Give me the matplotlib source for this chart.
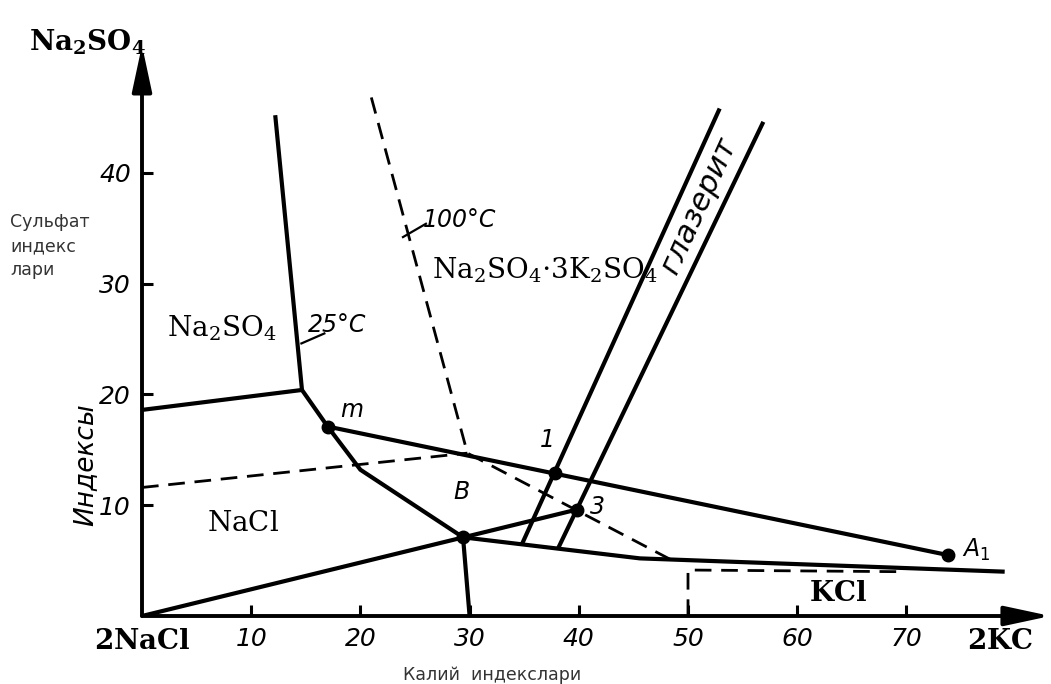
import matplotlib.pyplot as plt

# 25°C: Na2SO4 / NaCl / KCl / глазерит
curve_25_x = [12.2, 14.65, 17.0, 20.0, 29.4, 30.0]
curve_25_y = [45.2, 20.4, 17.1, 13.2, 7.1, 0.0]
na2so4_nacl_x = [0.0, 14.65]
na2so4_nacl_y = [18.6, 20.4]
b_kcl_x = [29.4, 45.6, 79.0]
b_kcl_y = [7.1, 5.2, 4.0]
glaserite_left_x = [34.8, 52.9]
glaserite_left_y = [6.5, 45.8]
glaserite_right_x = [38.1, 56.9]
glaserite_right_y = [6.1, 44.6]
ray_x = [0.0, 39.8]
ray_y = [0.0, 9.6]
m_a1_x = [17.0, 73.8]
m_a1_y = [17.1, 5.5]

# 100°C (пунктир)
curve_100_x = [21.0, 29.8, 48.4]
curve_100_y = [46.8, 14.7, 5.1]
nacl_100_x = [0.0, 29.8]
nacl_100_y = [11.6, 14.7]
kcl_100_x = [50.0, 50.0, 69.4]
kcl_100_y = [0.0, 4.15, 4.0]

# точки m, B, 1, 3, A1
point_names = ['m', 'B', '1', '3', r'$A_1$']
point_x = [17.0, 29.4, 37.8, 39.8, 73.8]
point_y = [17.1, 7.1, 12.9, 9.6, 5.5]
label_dx = [2.2, -0.1, -0.7, 1.9, 2.6]
label_dy = [1.5, 4.1, 3.0, 0.2, 0.5]

x_ticks = [10, 20, 30, 40, 50, 60, 70]
y_ticks = [10, 20, 30, 40]

X_MAX = 83.2
Y_MAX = 52

SERIF = 'DejaVu Serif'
SANS = 'DejaVu Sans'


def main():
    fig = plt.figure(figsize=(10.51, 6.84), dpi=100)
    ax = fig.add_axes([142 / 1051, 68 / 684, X_MAX * 10.92 / 1051, Y_MAX * 11.08 / 684])
    ax.set_xlim(0, X_MAX)
    ax.set_ylim(0, Y_MAX)
    for s in ax.spines.values():
        s.set_visible(False)

    solid = dict(color='black', lw=3, solid_capstyle='butt', solid_joinstyle='round')
    dashed = dict(color='black', lw=2, dashes=(6, 3.5))

    ax.plot(curve_25_x, curve_25_y, **solid)
    ax.plot(na2so4_nacl_x, na2so4_nacl_y, **solid)
    ax.plot(b_kcl_x, b_kcl_y, **solid)
    ax.plot(glaserite_left_x, glaserite_left_y, **solid)
    ax.plot(glaserite_right_x, glaserite_right_y, **solid)
    ax.plot(ray_x, ray_y, **solid)
    ax.plot(m_a1_x, m_a1_y, **solid)

    ax.plot(curve_100_x, curve_100_y, **dashed)
    ax.plot(nacl_100_x, nacl_100_y, **dashed)
    ax.plot(kcl_100_x, kcl_100_y, **dashed)

    ax.plot(point_x, point_y, 'o', color='black', ms=9)
    for name, x, y, dx, dy in zip(point_names, point_x, point_y, label_dx, label_dy):
        ax.text(x + dx, y + dy, name, fontsize=17, family=SANS, style='italic',
                math_fontfamily='dejavusans', ha='center', va='center')

    # оси со стрелками
    arrow = dict(arrowstyle='-|>,head_length=1.4,head_width=0.3', color='black',
                 lw=2.8, mutation_scale=20, shrinkA=0, shrinkB=0)
    ax.annotate('', xy=(X_MAX, 0), xytext=(0, 0), arrowprops=arrow, annotation_clip=False)
    ax.annotate('', xy=(0, 51.5), xytext=(0, 0), arrowprops=arrow, annotation_clip=False)

    ax.set_xticks(x_ticks, [str(t) for t in x_ticks])
    ax.set_yticks(y_ticks, [str(t) for t in y_ticks])
    ax.tick_params(direction='in', length=8, width=2.2, labelsize=18, pad=8)
    for lab in ax.get_xticklabels() + ax.get_yticklabels():
        lab.set_fontstyle('italic')
        lab.set_family(SANS)

    # надписи полей
    serif_bold = dict(fontsize=20, math_fontfamily='dejavuserif', ha='center', va='center')
    ax.text(0, -2.3, r'$\mathbf{2NaCl}$', **serif_bold)
    ax.text(78.6, -2.3, r'$\mathbf{2KC}$', **serif_bold)
    ax.text(-5, 51.8, r'$\mathbf{Na_2SO_4}$', **serif_bold)
    ax.text(63.7, 2.1, r'$\mathbf{KCl}$', **serif_bold)
    ax.text(7.3, 26.0, r'$\mathrm{Na_2SO_4}$', **serif_bold)
    ax.text(9.25, 8.4, r'$\mathrm{NaCl}$', **serif_bold)
    ax.text(36.9, 31.2, r'$\mathrm{Na_2SO_4{\cdot}3K_2SO_4}$', **serif_bold)
    ax.text(51.0, 37.1, 'глазерит', fontsize=22, family=SANS, style='italic',
            rotation=65.6, rotation_mode='anchor', ha='center', va='center')

    ax.text(17.9, 26.3, '25°C', fontsize=17, family=SANS, style='italic', ha='center', va='center')
    ax.plot([14.6, 16.7], [24.6, 25.5], color='black', lw=1.6)
    ax.text(29.1, 35.7, '100°C', fontsize=17, family=SANS, style='italic', ha='center', va='center')
    ax.plot([23.9, 26.0], [34.2, 35.4], color='black', lw=1.6)

    # подписи осей
    fig.text(10 / 1051, 1 - 246 / 684, 'Сульфат\nиндекс\nлари', fontsize=12.5, family=SANS,
             color='#333333', ha='left', va='center', linespacing=1.45)
    fig.text(85 / 1051, 1 - 465 / 684, 'Индексы', fontsize=19, family=SANS, style='italic',
             rotation=90, ha='center', va='center')
    fig.text(492 / 1051, 1 - 675 / 684, 'Калий  индекслари', fontsize=12.5, family=SANS,
             color='#333333', ha='center', va='center')

    fig.savefig('out.png', dpi=100)


if __name__ == "__main__":
    main()
